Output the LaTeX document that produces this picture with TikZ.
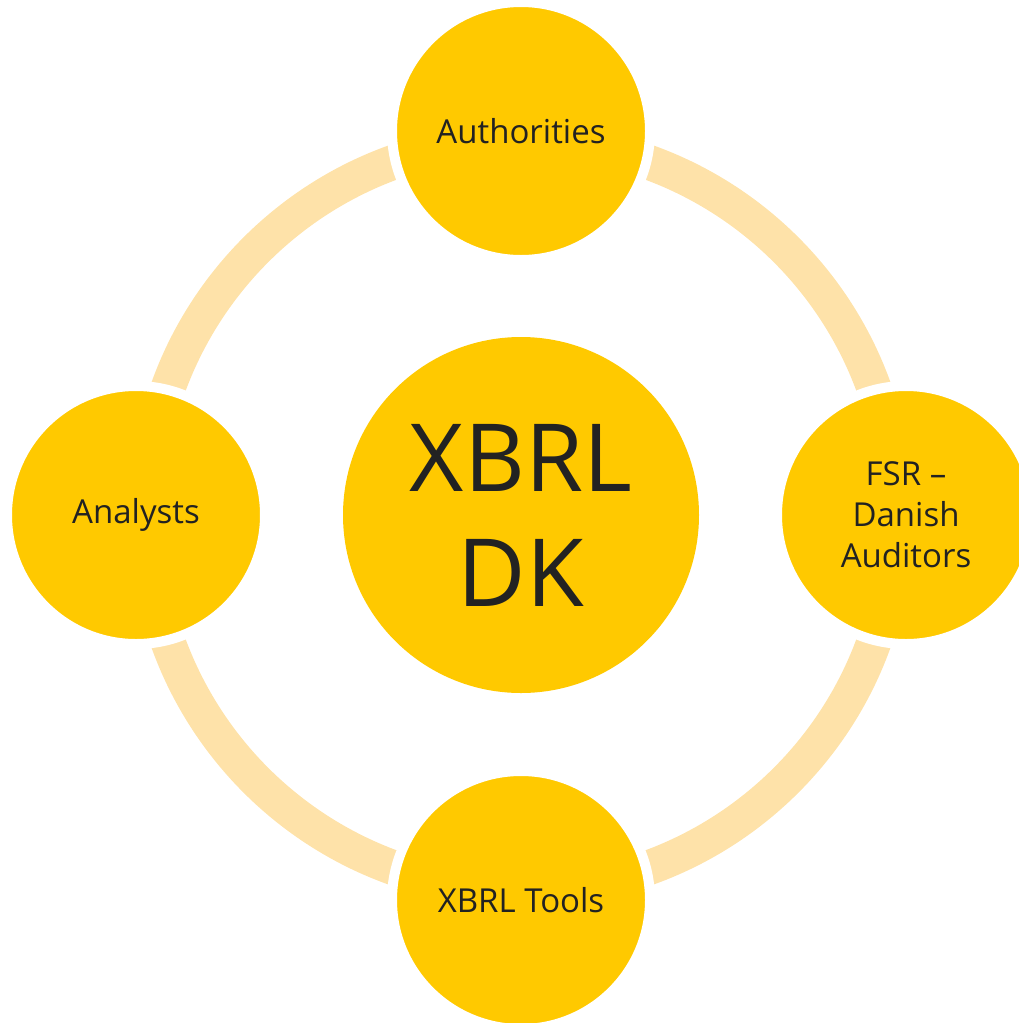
\documentclass[tikz,border=0pt]{standalone}
\usepackage{fontspec}
\setmainfont{Open Sans}
\definecolor{gold}{RGB}{255,201,0}
\definecolor{ringc}{RGB}{254,226,169}
\definecolor{txt}{RGB}{34,34,34}
\begin{document}
\begin{tikzpicture}[x=1pt,y=-1pt,
  sat/.style={circle,fill=gold,draw=white,line width=10pt,minimum size=258pt,inner sep=0pt,text=txt,font=\fontsize{33}{41}\selectfont,align=center},
  hub/.style={circle,fill=gold,minimum size=356pt,inner sep=0pt,text=txt,font=\fontsize{94}{115}\selectfont,align=center}]
\clip (0,0) rectangle (1019,1023);
\useasboundingbox (0,0) rectangle (1019,1023);
\coordinate (c) at (521,515);
\draw[ringc,line width=35pt] (c) circle[radius=375pt];
\node[hub] (hubn) at (c) {XBRL\\DK};
\node[sat] (top) at (521,131) {Authorities};
\node[sat] (right) at (906,515) {FSR –\\Danish\\Auditors};
\node[sat] (bottom) at (521,900) {XBRL Tools};
\node[sat] (left) at (136,515) {Analysts};
\end{tikzpicture}
\end{document}
